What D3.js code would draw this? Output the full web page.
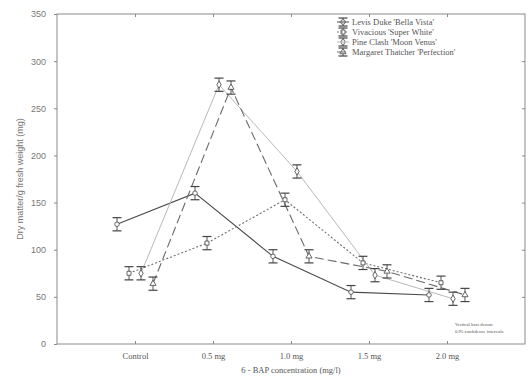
<!DOCTYPE html>
<html><head><meta charset="utf-8">
<script src="https://cdn.jsdelivr.net/npm/d3@7"></script>
<style>body{margin:0;background:#fff}</style>
</head><body>
<svg id="c" width="529" height="387"></svg>
<script>
const categories = ["Control","0.5 mg","1.0 mg","1.5 mg","2.0 mg"];
const seriesNames = ["Levis Duke 'Bella Vista'","Vivacious 'Super White'","Pine Clash 'Moon Venus'","Margaret Thatcher 'Perfection'"];
const levis = [127,160,93,55,52];
const vivacious = [75,107,153,86,65];
const pine = [75,275,183,73,48];
const margaret = [64,272,93,77,52];
const errors = [7,7,7,7,7];
const yTicks = [0,50,100,150,200,250,300,350];

const series = [levis, vivacious, pine, margaret];
const styles = [
  {stroke:"#4a4a4a", dash:null, w:1.1, sym:d3.symbolCircle},
  {stroke:"#707070", dash:"2,2", w:1.1, sym:d3.symbolSquare},
  {stroke:"#b8b8b8", dash:null, w:1, sym:d3.symbolDiamond},
  {stroke:"#6a6a6a", dash:"9,4", w:1.1, sym:d3.symbolTriangle}
];

const svg = d3.select("#c");
const L=57, R=525, T=14, B=344;
const x = d3.scalePoint().domain(categories).range([L,R]).padding(1);
const y = d3.scaleLinear().domain([0,350]).range([B,T]);
const off = d3.scalePoint().domain(d3.range(series.length)).range([-18,18]);

// frame
svg.append("rect").attr("x",L).attr("y",T).attr("width",R-L).attr("height",B-T)
  .attr("fill","none").attr("stroke","#8a8a8a").attr("stroke-width",1);

// axes
const yAxis = svg.append("g").attr("transform",`translate(${L},0)`)
  .call(d3.axisLeft(y).tickValues(yTicks).tickSize(3).tickPadding(8));
yAxis.select(".domain").remove();
yAxis.selectAll("line").attr("stroke","#8a8a8a");
yAxis.selectAll("text").attr("font-family","Liberation Sans, Arial, sans-serif")
  .attr("font-size",9).attr("fill","#777");

const yAxisR = svg.append("g").attr("transform",`translate(${R},0)`)
  .call(d3.axisRight(y).tickValues(yTicks.slice(1,-1)).tickSize(-3).tickFormat(""));
yAxisR.select(".domain").remove();
yAxisR.selectAll("line").attr("stroke","#8a8a8a");

const xAxis = svg.append("g").attr("transform",`translate(0,${B})`)
  .call(d3.axisBottom(x).tickSize(-3).tickPadding(9));
xAxis.select(".domain").remove();
xAxis.selectAll("line").attr("stroke","#8a8a8a");
xAxis.selectAll("text").attr("font-family","Liberation Serif, Times New Roman, serif")
  .attr("font-size",8.5).attr("fill","#555");

const xAxisT = svg.append("g").attr("transform",`translate(0,${T})`)
  .call(d3.axisTop(x).tickSize(-3).tickFormat(""));
xAxisT.select(".domain").remove();
xAxisT.selectAll("line").attr("stroke","#8a8a8a");

// titles
svg.append("text").attr("transform",`translate(23,${(T+B)/2}) rotate(-90)`)
  .attr("text-anchor","middle").attr("font-family","Liberation Sans, Arial, sans-serif")
  .attr("font-size",9).attr("fill","#777").text("Dry matter/g fresh weight (mg)");
svg.append("text").attr("x",291).attr("y",373).attr("text-anchor","middle")
  .attr("font-family","Liberation Serif, Times New Roman, serif")
  .attr("font-size",8.5).attr("fill","#555").text("6 - BAP concentration (mg/l)");

// lines
const line = d3.line();
series.forEach((vals,si)=>{
  const st = styles[si];
  const pts = vals.map((v,i)=>[x(categories[i])+off(si), y(v)]);
  svg.append("path").attr("d",line(pts)).attr("fill","none")
    .attr("stroke",st.stroke).attr("stroke-width",st.w)
    .attr("stroke-dasharray",st.dash);
});

// error bars + markers
function errGlyph(g, cx, cy, top, bot, st){
  g.append("line").attr("x1",cx).attr("x2",cx).attr("y1",top).attr("y2",bot)
    .attr("stroke","#555").attr("stroke-width",1);
  [top,bot].forEach(yy=>g.append("line").attr("x1",cx-4.5).attr("x2",cx+4.5)
    .attr("y1",yy).attr("y2",yy).attr("stroke","#444").attr("stroke-width",1.2));
  g.append("path").attr("d",d3.symbol().type(st.sym).size(16)())
    .attr("transform",`translate(${cx},${cy})`)
    .attr("fill","#fff").attr("stroke","#555").attr("stroke-width",0.9);
}
series.forEach((vals,si)=>{
  const g = svg.append("g");
  vals.forEach((v,i)=>{
    const cx = x(categories[i])+off(si);
    errGlyph(g, cx, y(v), y(v+errors[i]), y(v-errors[i]), styles[si]);
  });
});

// legend
const lg = svg.append("g");
seriesNames.forEach((n,i)=>{
  const yy = 22 + i*10;
  errGlyph(lg, 343, yy, yy-4, yy+4, styles[i]);
  lg.append("line").attr("x1",337).attr("x2",349).attr("y1",yy).attr("y2",yy)
    .attr("stroke",styles[i].stroke).attr("stroke-dasharray",styles[i].dash);
  lg.append("text").attr("x",352).attr("y",yy+3)
    .attr("font-family","Liberation Serif, Times New Roman, serif")
    .attr("font-size",8.5).attr("fill","#555").text(n);
});

// note
svg.append("text").attr("x",455).attr("y",326)
  .attr("font-family","Liberation Serif, Times New Roman, serif")
  .attr("font-size",4.8).attr("fill","#555").text("Vertical bars denote");
svg.append("text").attr("x",455).attr("y",333)
  .attr("font-family","Liberation Serif, Times New Roman, serif")
  .attr("font-size",4.8).attr("fill","#555").text("0.95 confidence intervals");
</script>
</body></html>
